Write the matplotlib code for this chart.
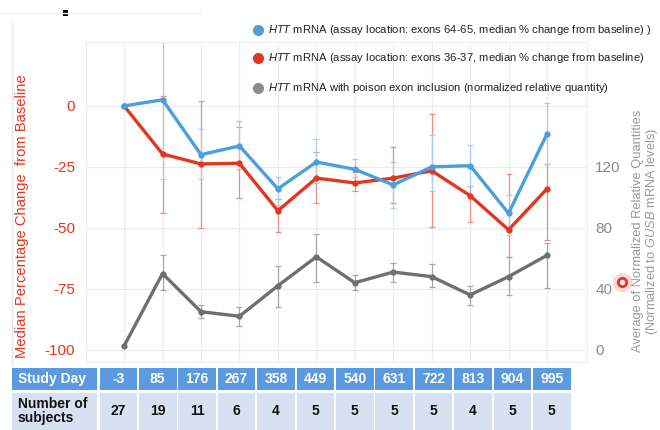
import numpy as np
import matplotlib
matplotlib.use("Agg")
import matplotlib.pyplot as plt
from matplotlib.patches import Rectangle
from matplotlib.lines import Line2D

plt.rcParams['font.family'] = ['Liberation Sans', 'DejaVu Sans']
plt.rcParams['mathtext.fontset'] = 'custom'
plt.rcParams['mathtext.rm'] = 'Liberation Sans'
plt.rcParams['mathtext.it'] = 'Liberation Sans:italic'
plt.rcParams['mathtext.bf'] = 'Liberation Sans:bold'

# ---------------- data ----------------
study_days = ['-3', '85', '176', '267', '358', '449', '540', '631', '722', '813', '904', '995']
n_subjects = [27, 19, 11, 6, 4, 5, 5, 5, 5, 4, 5, 5]

blue_med = [0, 2.5, -20, -16.4, -34, -23, -26, -32.4, -25, -24.5, -44, -11.5]
blue_hi = [0, 26, -9.4, -6, -29, -13.5, -21.7, -23, -12, -16, -36.5, 1]
blue_lo = [0, -30, -30, -26, -40.5, -31.5, -29, -42, -35, -33, -53, -24]

red_med = [0, -19.7, -23.8, -23.5, -43, -29.6, -31.6, -29.6, -26.6, -36.8, -50.8, -34]
red_hi = [0, 4, 2, -8.6, -38, -19, -27, -16.8, -3.3, -33, -28, -24]
red_lo = [0, -44, -50, -37.7, -51.6, -40, -35, -40, -49.6, -47.5, -62, -55]

gray_avg = [2.5, 50, 25, 22, 42, 61, 44, 51, 48, 36, 48, 62]
gray_hi = [2.5, 62, 29.7, 28.4, 55, 76, 49, 57, 56, 42, 60.6, 70]
gray_lo = [2.5, 39, 20.6, 15.5, 28.4, 44.5, 39, 44.5, 41, 29.7, 36, 40.6]

left_ticks = [0, -25, -50, -75, -100]
right_ticks = [0, 40, 80, 120]

legend_labels = [
    r"$\mathit{HTT}$ mRNA (assay location: exons 64-65, median % change from baseline) )",
    r"$\mathit{HTT}$ mRNA (assay location: exons 36-37, median % change from baseline)",
    r"$\mathit{HTT}$ mRNA with poison exon inclusion (normalized relative quantity)",
]

BLUE = '#4b9fdb'
RED = '#e2361f'
GRAY = '#6f6f6f'
BLUE_E = '#a9cdec'
RED_E = '#ec8f84'
GRAY_E = '#a8a8a8'

W, H = 660, 430
fig = plt.figure(figsize=(6.6, 4.3), dpi=100)
fig.patch.set_facecolor('white')

ax = fig.add_axes([86 / W, 1 - 362 / H, (587 - 86) / W, (362 - 42) / H])
ax.set_facecolor('white')
x = np.arange(len(study_days))

# error bars (skip first point which has none)
def ebar(axis, med, lo, hi, color):
    m = np.array(med[1:], float)
    l = np.array(lo[1:], float)
    h = np.array(hi[1:], float)
    axis.errorbar(x[1:], m, yerr=[m - l, h - m], fmt='none', ecolor=color,
                  elinewidth=0.9, capsize=2.5, capthick=0.9, zorder=2)

ebar(ax, red_med, red_lo, red_hi, RED_E)
ebar(ax, blue_med, blue_lo, blue_hi, BLUE_E)
ax.plot(x, red_med, '-o', color=RED, lw=2.4, ms=3.5, zorder=3)
ax.plot(x, blue_med, '-o', color=BLUE, lw=2.4, ms=3.5, zorder=4)

ax.set_xlim(-0.99, 12.04)
ax.set_ylim(-105, 26.2)
ax.set_yticks(left_ticks)
ax.set_yticklabels([str(t) for t in left_ticks], color=RED, fontsize=11)
ax.set_xticks(x)
ax.set_xticklabels([])
ax.tick_params(axis='both', length=0)
ax.tick_params(axis='y', pad=8)
ax.grid(True, color='#ececec', lw=0.8)
ax.set_axisbelow(True)
for s in ax.spines.values():
    s.set_color('#eeeeee')
    s.set_linewidth(0.8)

ax2 = ax.twinx()
ax2.set_ylim((-105 + 100) * 1.6, (26.2 + 100) * 1.6)
ebar(ax2, gray_avg, gray_lo, gray_hi, GRAY_E)
ax2.plot(x, gray_avg, '-o', color=GRAY, lw=2.4, ms=3.5, zorder=3)
ax2.set_yticks(right_ticks)
ax2.set_yticklabels([str(t) for t in right_ticks], color='#8a8a8a', fontsize=11)
ax2.tick_params(axis='y', length=0, pad=6)
for s in ax2.spines.values():
    s.set_visible(False)

# axis labels
fig.text(22 / W, 1 - 216 / H, "Median Percentage Change  from Baseline", rotation=90,
         color=RED, fontsize=10.6, ha='center', va='center')
fig.text(638 / W, 1 - 231 / H, "Average of Normalized Relative Quantities", rotation=90,
         color='#9a9a9a', fontsize=9.3, ha='center', va='center')
fig.text(651.5 / W, 1 - 231 / H, r"(Normalized to $\mathit{GUSB}$ mRNA levels)", rotation=90,
         color='#9a9a9a', fontsize=9.3, ha='center', va='center')

# legend
for lab, col, yy in zip(legend_labels, [BLUE, RED, '#8c8c8c'], [30, 58, 88]):
    fig.add_artist(Line2D([258 / W], [1 - yy / H], marker='o', ms=7, color=col,
                          transform=fig.transFigure))
    fig.text(268 / W, 1 - yy / H, lab, fontsize=8.1, color='#222222', ha='left', va='center')

# table
header_c = '#5a9ae0'
row_c = '#d8e1f2'
def rect(x0, y0, x1, y1, c):
    fig.patches.append(Rectangle((x0 / W, 1 - y1 / H), (x1 - x0) / W, (y1 - y0) / H,
                                 facecolor=c, edgecolor='none', transform=fig.transFigure))

rect(12, 368, 97, 390, header_c)
rect(12, 393, 97, 430, row_c)
fig.text(18 / W, 1 - 379 / H, "Study Day", color='white', fontsize=10, fontweight='bold',
         ha='left', va='center')
fig.text(18 / W, 1 - 411 / H, "Number of\nsubjects", color='#111111', fontsize=10,
         fontweight='bold', ha='left', va='center', linespacing=1.05)
for i, (d, n) in enumerate(zip(study_days, n_subjects)):
    x0 = 99.5 + i * 39.4
    x1 = x0 + 37.6
    rect(x0, 368, x1, 390, header_c)
    rect(x0, 393, x1, 430, row_c)
    cx = (x0 + x1) / 2
    fig.text(cx / W, 1 - 379 / H, d, color='white', fontsize=10, fontweight='bold',
             ha='center', va='center')
    fig.text(cx / W, 1 - 411 / H, str(n), color='#111111', fontsize=10, fontweight='bold',
             ha='center', va='center')

# frame remnants / artifacts
fig.add_artist(Line2D([12 / W, 12 / W], [1 - 22 / H, 1 - 366 / H], color='#e6e6e6', lw=1,
                      transform=fig.transFigure))
fig.add_artist(Line2D([0, 200 / W], [1 - 13 / H, 1 - 13 / H], color='#f4efe2', lw=1,
                      transform=fig.transFigure))
fig.patches.append(Rectangle((63 / W, 1 - 16 / H), 5 / W, 6 / H, facecolor='black',
                             edgecolor='none', transform=fig.transFigure))
fig.add_artist(Line2D([622 / W], [1 - 282 / H], marker='o', ms=14, color='#f7c9c4',
                      mec='none', alpha=0.7, transform=fig.transFigure))
fig.add_artist(Line2D([622 / W], [1 - 282 / H], marker='o', ms=6, mfc='white', mec='#e8321f',
                      mew=2, transform=fig.transFigure))

fig.savefig('out.png', dpi=100)
